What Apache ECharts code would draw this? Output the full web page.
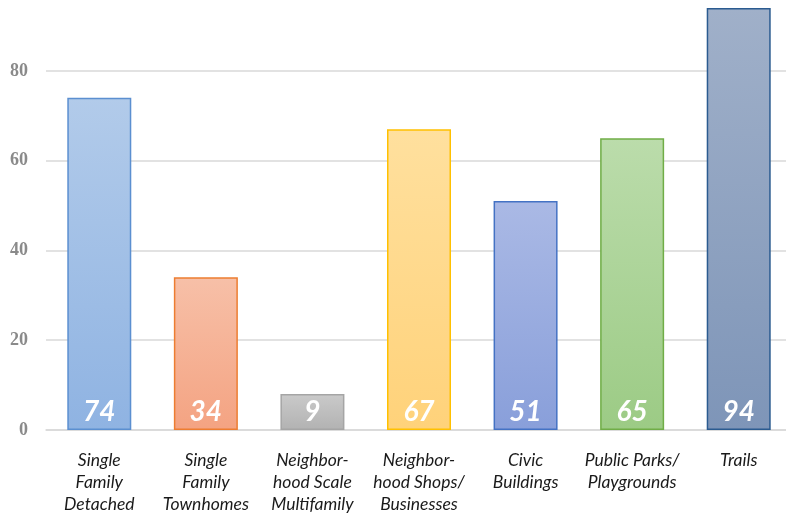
<!DOCTYPE html>
<html>
<head>
<meta charset="utf-8">
<script src="https://cdn.jsdelivr.net/npm/echarts@6/dist/echarts.min.js"></script>
<style>html,body{margin:0;padding:0;background:#fff;overflow:hidden}#c{width:792px;height:518px}</style>
</head>
<body>
<div id="c"></div>
<script>
var categories = ['Single\nFamily\nDetached', 'Single\nFamily\nTownhomes', 'Neighbor-\nhood Scale\nMultifamily', 'Neighbor-\nhood Shops/\nBusinesses', 'Civic\nBuildings', 'Public Parks/\nPlaygrounds', 'Trails'];
var values = [74, 34, 8, 67, 51, 65, 94];
var valueLabels = ['74', '34', '9', '67', '51', '65', '94'];
var topColors = ['#b2cbea', '#f7c0a8', '#cacaca', '#ffe09e', '#aab9e5', '#bbdcab', '#a0b0c9'];
var bottomColors = ['#8fb3e2', '#f4a382', '#b2b2b2', '#ffd27a', '#899fda', '#9ccb85', '#7e95b8'];
var borderColors = ['#5b8fd0', '#ed7d31', '#a5a5a5', '#ffc000', '#4472c4', '#70ad47', '#2b5b90'];

var chart = echarts.init(document.getElementById('c'));
var data = values.map(function (v, i) {
  return {
    value: v,
    itemStyle: {
      color: new echarts.graphic.LinearGradient(0, 0, 0, 1, [
        { offset: 0, color: topColors[i] },
        { offset: 1, color: bottomColors[i] }
      ]),
      borderColor: borderColors[i],
      borderWidth: 1.5
    }
  };
});
chart.setOption({
  animation: false,
  grid: { left: 46, right: 0, top: 8, bottom: 88 },
  xAxis: {
    type: 'category',
    data: categories,
    axisLine: { lineStyle: { color: '#d9d9d9', width: 1.5 } },
    axisTick: { show: false },
    axisLabel: {
      interval: 0,
      margin: 19,
      fontFamily: 'Lato',
      fontStyle: 'italic',
      fontSize: 17.5,
      lineHeight: 22,
      color: '#1a1a1a'
    }
  },
  yAxis: {
    type: 'value',
    min: 0,
    max: 94,
    interval: 20,
    axisLine: { show: false },
    axisTick: { show: false },
    splitLine: { showMaxLine: false, lineStyle: { color: '#d9d9d9', width: 1.5 } },
    axisLabel: {
      showMaxLabel: false,
      margin: 18,
      fontFamily: "'Liberation Serif', 'DejaVu Serif', serif",
      fontWeight: 'bold',
      fontSize: 18,
      color: '#8a8a8a'
    }
  },
  series: [{
    type: 'bar',
    data: data,
    barWidth: 64,
    label: {
      show: true,
      position: 'insideBottom',
      distance: 4,
      fontFamily: 'Lato',
      fontStyle: 'italic',
      fontWeight: 'bold',
      fontSize: 28,
      color: '#ffffff',
      formatter: function (p) { return valueLabels[p.dataIndex]; }
    }
  }]
});
</script>
</body>
</html>
